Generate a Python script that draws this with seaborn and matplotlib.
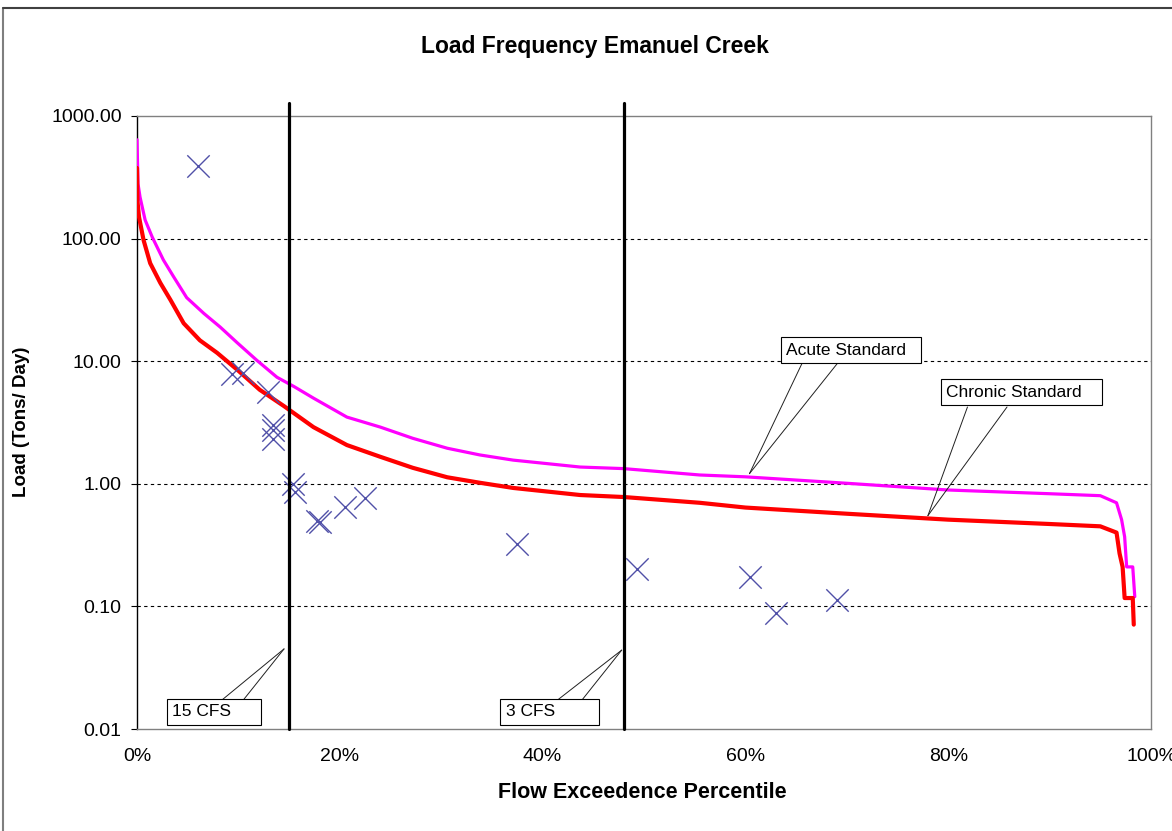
import matplotlib
matplotlib.use("Agg")
import matplotlib.pyplot as plt
from matplotlib.lines import Line2D
from matplotlib.ticker import FixedLocator, FuncFormatter, NullLocator
import seaborn as sns
import pandas as pd

# ── Data ──────────────────────────────────────────────────────────────────────
acute_pct = [0.0, 0.1, 0.3, 0.8, 1.5, 2.6, 3.6, 4.9, 6.6, 8.2, 9.9, 11.8, 13.8,
             15.5, 17.4, 20.7, 24.0, 27.2, 30.6, 33.8, 37.1, 43.7, 48.0, 55.5,
             60.0, 70.0, 80.0, 90.0, 95.0, 96.6, 97.1, 97.4, 97.6, 98.2, 98.4]
acute_load = [640, 280, 218, 142, 103, 67, 49, 33, 24.5, 19, 14.1, 10.2, 7.4,
              6.2, 5.0, 3.5, 2.9, 2.35, 1.95, 1.72, 1.56, 1.37, 1.33, 1.18,
              1.14, 1.01, 0.89, 0.83, 0.80, 0.70, 0.51, 0.37, 0.21, 0.21, 0.12]

chronic_pct = [0.0, 0.05, 0.2, 0.65, 1.3, 2.3, 3.3, 4.6, 6.2, 7.9, 9.9, 12.1,
               14.5, 17.4, 20.7, 24.0, 27.2, 30.6, 33.8, 37.1, 43.7, 48.0,
               55.5, 60.0, 70.0, 80.0, 90.0, 95.0, 96.6, 96.9, 97.2, 97.4,
               98.2, 98.3]
chronic_load = [377, 200, 150, 97, 63, 43.5, 31.6, 20.4, 14.8, 11.7, 8.5, 5.85,
                4.3, 2.9, 2.07, 1.66, 1.35, 1.13, 1.02, 0.925, 0.81, 0.78,
                0.70, 0.64, 0.57, 0.51, 0.47, 0.45, 0.40, 0.27, 0.21, 0.117,
                0.117, 0.071]

sample_pct = [6.0, 9.4, 10.5, 12.9, 13.4, 13.4, 13.4, 15.4, 15.6, 17.8, 18.0,
              20.5, 22.5, 37.5, 49.3, 60.5, 63.0, 69.0]
sample_load = [390, 7.9, 8.0, 5.6, 3.0, 2.75, 2.3, 1.0, 0.86, 0.50, 0.49,
               0.65, 0.77, 0.32, 0.20, 0.175, 0.088, 0.112]

cfs_pct = [15, 48]
cfs_labels = ["15 CFS", "3 CFS"]

y_ticks = [0.01, 0.1, 1, 10, 100, 1000]
x_ticks = [0, 20, 40, 60, 80, 100]

acute = pd.DataFrame({"pct": acute_pct, "load": acute_load})
chronic = pd.DataFrame({"pct": chronic_pct, "load": chronic_load})
samples = pd.DataFrame({"pct": sample_pct, "load": sample_load})

sns.set_theme(style="white")
plt.rcParams["font.family"] = ["Liberation Sans", "DejaVu Sans"]
plt.rcParams["text.color"] = "black"
plt.rcParams["xtick.color"] = "black"
plt.rcParams["ytick.color"] = "black"

fig = plt.figure(figsize=(11.72, 8.31), dpi=100)
ax = fig.add_axes([137 / 1172, 1 - 729 / 831, (1151 - 137) / 1172, (729 - 116) / 831])

# outer chart frame (only the left and top edges fall inside the picture)
fig.add_artist(Line2D([3 / 1172, 3 / 1172], [0, 1 - 8 / 831], transform=fig.transFigure,
                      color="#7f7f7f", lw=1.5))
fig.add_artist(Line2D([3 / 1172, 1], [1 - 8 / 831, 1 - 8 / 831], transform=fig.transFigure,
                      color="#404040", lw=1.5))

# ── Curves and samples ────────────────────────────────────────────────────────
sns.lineplot(data=acute, x="pct", y="load", sort=False, estimator=None,
             color="#FF00FF", lw=2.3, ax=ax, zorder=3)
sns.lineplot(data=chronic, x="pct", y="load", sort=False, estimator=None,
             color="#FF0000", lw=3.0, ax=ax, zorder=3)
sns.scatterplot(data=samples, x="pct", y="load", marker="x", s=260,
                color="#5050A8", linewidth=1.0, ax=ax, zorder=4)

for p in cfs_pct:
    ax.axvline(p, ymin=0, ymax=1.021, color="black", lw=2.3, clip_on=False, zorder=5)

# ── Axes ──────────────────────────────────────────────────────────────────────
ax.set_yscale("log")
ax.set_ylim(0.01, 1000)
ax.set_xlim(0, 100)
ax.yaxis.set_major_locator(FixedLocator(y_ticks))
ax.yaxis.set_minor_locator(NullLocator())
ax.yaxis.set_major_formatter(FuncFormatter(lambda v, _: f"{v:.2f}"))
ax.xaxis.set_major_locator(FixedLocator(x_ticks))
ax.xaxis.set_major_formatter(FuncFormatter(lambda v, _: f"{v:.0f}%"))
ax.tick_params(axis="y", which="major", direction="out", length=4.5, width=0.8,
               color="black", left=True, labelsize=14, pad=6.5)
ax.tick_params(axis="x", length=0, labelsize=14, pad=14)

for y in y_ticks[1:-1]:
    ax.axhline(y, color="black", lw=0.8, ls=(0, (3, 3)), zorder=1)

for side in ["top", "right", "bottom"]:
    ax.spines[side].set_color("#808080")
    ax.spines[side].set_linewidth(1.0)
ax.spines["left"].set_color("black")
ax.spines["left"].set_linewidth(1.0)

ax.set_xlabel("")
ax.set_ylabel("")
fig.text(595 / 1172, 1 - 47 / 831, "Load Frequency Emanuel Creek", ha="center", va="center",
         fontsize=16.5, fontweight="bold")
fig.text(642 / 1172, 1 - 792 / 831, "Flow Exceedence Percentile", ha="center", va="center",
         fontsize=15.5, fontweight="bold")
fig.text(22 / 1172, 1 - 422 / 831, "Load (Tons/ Day)", ha="center", va="center",
         rotation=90, fontsize=13.5, fontweight="bold")

# ── Callouts (Excel style: box plus two leader lines meeting at the tip) ──────
box = dict(boxstyle="square,pad=0.3", fc="white", ec="black", lw=0.8)


def callout(text, tip, base_left, base_right, base_y, box_center):
    for bx in (base_left, base_right):
        ax.annotate("", xy=tip, xytext=(bx, base_y), textcoords="data", zorder=6,
                    arrowprops=dict(arrowstyle="-", color="#202020", lw=0.7,
                                    shrinkA=0, shrinkB=0))
    ax.text(*box_center, text, ha="center", va="center", fontsize=12.5, bbox=box, zorder=7)


callout("Acute Standard  ", (60.4, 1.21), 65.6, 69.1, 9.66, (70.4, 12.3))
callout("Chronic Standard   ", (78.0, 0.55), 81.9, 85.8, 4.23, (87.2, 5.6))
callout(cfs_labels[0] + "     ", (14.5, 0.045), 8.4, 10.5, 0.0173, (7.6, 0.0138))
callout(cfs_labels[1] + "        ", (47.8, 0.044), 41.5, 43.9, 0.0173, (40.7, 0.0138))

fig.savefig("out.png", dpi=100)
